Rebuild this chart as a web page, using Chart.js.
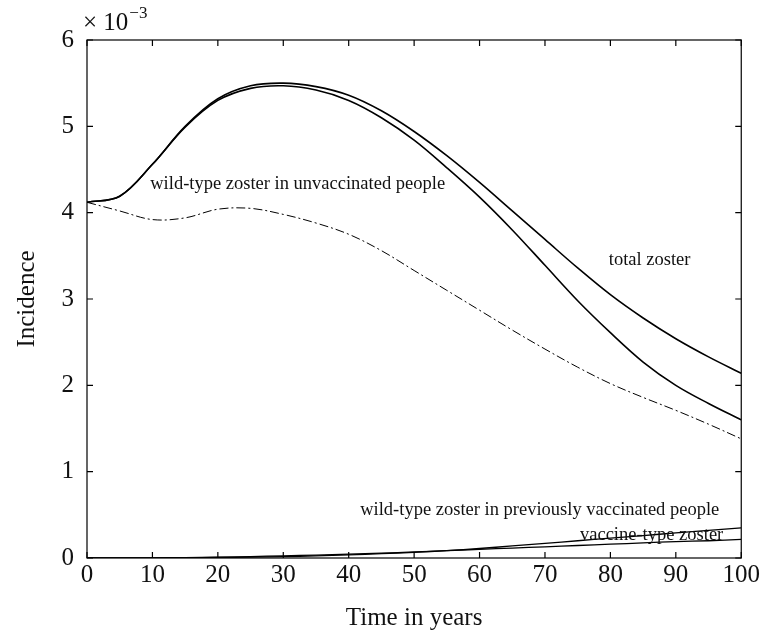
<!DOCTYPE html>
<html>
<head>
<meta charset="utf-8">
<script src="https://cdn.jsdelivr.net/npm/chart.js@4/dist/chart.umd.min.js"></script>
<style>
  body { margin: 0; background: #fff; }
  #wrap { width: 762px; height: 635px; }
</style>
</head>
<body>
<div id="wrap"><canvas id="chart" width="762" height="635"></canvas></div>
<script>
// time in years, incidence in units of 1e-3
const years = [0, 5, 10, 15, 20, 25, 30, 35, 40, 45, 50, 55, 60, 65, 70, 75, 80, 85, 90, 95, 100];
const totalZoster = [4.12, 4.19, 4.56, 5.00, 5.32, 5.47, 5.50, 5.46, 5.36, 5.18, 4.94, 4.66, 4.35, 4.02, 3.69, 3.36, 3.05, 2.78, 2.54, 2.33, 2.14];
const wildUnvacc = [4.12, 4.19, 4.56, 4.99, 5.30, 5.44, 5.47, 5.42, 5.30, 5.10, 4.84, 4.52, 4.18, 3.80, 3.39, 2.98, 2.61, 2.27, 2.00, 1.79, 1.60];
const noVaccine = [4.12, 4.02, 3.92, 3.94, 4.04, 4.05, 3.98, 3.88, 3.75, 3.56, 3.33, 3.10, 2.87, 2.64, 2.42, 2.21, 2.02, 1.86, 1.71, 1.55, 1.38];
const wildPrevVacc = [0, 0, 0, 0.003, 0.006, 0.01, 0.016, 0.025, 0.036, 0.05, 0.066, 0.086, 0.11, 0.14, 0.17, 0.20, 0.23, 0.26, 0.29, 0.32, 0.35];
const vaccineType = [0, 0, 0.002, 0.005, 0.01, 0.017, 0.025, 0.034, 0.045, 0.057, 0.07, 0.085, 0.10, 0.115, 0.13, 0.145, 0.16, 0.175, 0.19, 0.20, 0.215];
const xTicks = [0, 10, 20, 30, 40, 50, 60, 70, 80, 90, 100];
const yTicks = [0, 1, 2, 3, 4, 5, 6];

const serif = '"Liberation Serif", "DejaVu Serif", serif';

function pts(vals) {
    return years.map((x, i) => ({ x: x, y: vals[i] }));
}

function line(label, vals, opts) {
    return Object.assign({
        label: label,
        data: pts(vals),
        borderColor: '#000',
        borderWidth: 1.6,
        pointRadius: 0,
        fill: false,
        tension: 0.35
    }, opts || {});
}

// frame with inward ticks, the exponent and curve labels
const decorations = {
    id: 'decorations',
    afterDatasetsDraw(chart) {
        const ctx = chart.ctx;
        const a = chart.chartArea;
        const xs = chart.scales.x, ys = chart.scales.y;
        ctx.save();
        ctx.strokeStyle = '#000';
        ctx.lineWidth = 1.2;
        ctx.strokeRect(a.left, a.top, a.right - a.left, a.bottom - a.top);
        ctx.beginPath();
        xTicks.forEach(t => {
            const px = xs.getPixelForValue(t);
            ctx.moveTo(px, a.bottom); ctx.lineTo(px, a.bottom - 6);
            ctx.moveTo(px, a.top); ctx.lineTo(px, a.top + 6);
        });
        yTicks.forEach(t => {
            const py = ys.getPixelForValue(t);
            ctx.moveTo(a.left, py); ctx.lineTo(a.left + 6, py);
            ctx.moveTo(a.right, py); ctx.lineTo(a.right - 6, py);
        });
        ctx.stroke();

        ctx.fillStyle = '#111';
        ctx.textBaseline = 'alphabetic';
        ctx.textAlign = 'left';
        ctx.font = '25px ' + serif;
        ctx.fillText('\u00d7 10', a.left - 4, a.top - 10);
        const w = ctx.measureText('\u00d7 10').width;
        ctx.font = '17px ' + serif;
        ctx.fillText('\u22123', a.left - 3 + w, a.top - 22);

        ctx.font = '18.5px ' + serif;
        ctx.textAlign = 'center';
        ctx.textBaseline = 'middle';
        const notes = [
            ['wild-type zoster in unvaccinated people', 32.2, 4.33],
            ['total zoster', 86, 3.45],
            ['wild-type zoster in previously vaccinated people', 69.2, 0.56],
            ['vaccine-type zoster', 86.3, 0.27]
        ];
        notes.forEach(n => {
            ctx.fillText(n[0], xs.getPixelForValue(n[1]), ys.getPixelForValue(n[2]));
        });
        ctx.restore();
    }
};

new Chart(document.getElementById('chart'), {
    type: 'line',
    data: {
        datasets: [
            line('total zoster', totalZoster),
            line('wild-type zoster in unvaccinated people', wildUnvacc),
            line('no vaccination', noVaccine, { borderWidth: 1, borderDash: [9, 3, 2, 3] }),
            line('wild-type zoster in previously vaccinated people', wildPrevVacc, { borderWidth: 1.3 }),
            line('vaccine-type zoster', vaccineType, { borderWidth: 1.3 })
        ]
    },
    options: {
        responsive: false,
        animation: false,
        layout: { padding: { top: 40, right: 20, left: 0, bottom: 0 } },
        plugins: { legend: { display: false }, tooltip: { enabled: false } },
        scales: {
            x: {
                type: 'linear', min: 0, max: 100,
                afterBuildTicks: s => { s.ticks = xTicks.map(v => ({ value: v })); },
                afterFit: s => { s.height = 77; },
                grid: { display: false, drawTicks: false },
                border: { display: false },
                ticks: { color: '#111', padding: 2, font: { family: serif, size: 25 } },
                title: { display: true, text: 'Time in years', color: '#111', padding: { top: 0, bottom: 2 }, font: { family: serif, size: 25 } }
            },
            y: {
                min: 0, max: 6,
                afterBuildTicks: s => { s.ticks = yTicks.map(v => ({ value: v })); },
                afterFit: s => { s.width = 87; },
                grid: { display: false, drawTicks: false },
                border: { display: false },
                ticks: { color: '#111', padding: 13, font: { family: serif, size: 25 } },
                title: { display: true, text: 'Incidence', color: '#111', padding: { top: 12, bottom: 0 }, font: { family: serif, size: 25 } }
            }
        }
    },
    plugins: [decorations]
});
</script>
</body>
</html>
